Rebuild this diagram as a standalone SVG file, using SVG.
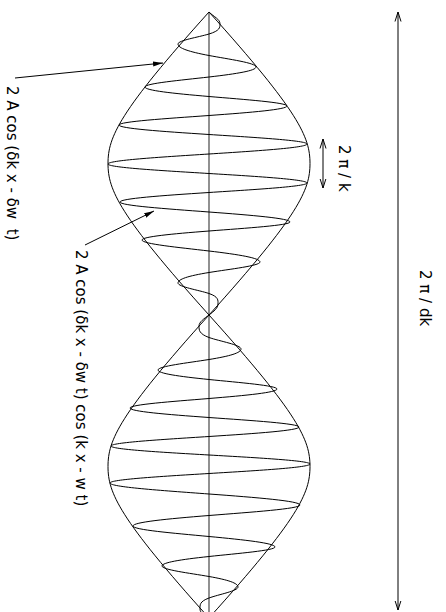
<svg xmlns="http://www.w3.org/2000/svg" width="446" height="612" viewBox="0 0 446 612">
<style>
.ln{fill:none;stroke:#000;stroke-width:1}
.ax{fill:none;stroke:#555;stroke-width:1.3}
.lbl{font-family:"DejaVu Sans",sans-serif;font-size:15px;fill:#000;white-space:pre}
</style>
<defs>
<marker id="ah" viewBox="0 0 10 6" refX="10" refY="3" markerWidth="10" markerHeight="6" markerUnits="userSpaceOnUse" orient="auto">
<path d="M0,0.5 L10,3 L0,5.5 z" fill="#000"/>
</marker>
<marker id="av" viewBox="0 0 10 8" refX="9.5" refY="4" markerWidth="10" markerHeight="8" markerUnits="userSpaceOnUse" orient="auto-start-reverse">
<path d="M0,1 L9.5,4 L0,7" fill="none" stroke="#000" stroke-width="1"/>
</marker>
</defs>
<rect width="446" height="612" fill="#fff"/>
<g id="axis"><line class="ax" x1="209" y1="12" x2="209" y2="612"/></g>
<g id="envelope">
<path class="ln" d="M209,12 C119,112 108,137 108,163.5 C108,190 119,215 209,315 C119,415 108,440 108,466.5 C108,493 119,518 209,618"/>
<path class="ln" d="M209,12 C299,112 310,137 310,163.5 C310,190 299,215 209,315 C299,415 310,440 310,466.5 C310,493 299,518 209,618"/>
</g>
<g id="carrier">
<path class="ln" d="M209,12 C214,17 220,19 220,24
C220,27.62 219.75,30.74 209,34 C198.25,37.26 178,40.38 178,44
C178,48.16 189.03,51.75 209,55.5 C228.97,59.25 256,62.84 256,67
C256,70.62 237.42,73.74 209,77 C180.58,80.26 145,83.38 145,87
C145,90.44 172.65,93.4 209,96.5 C245.35,99.6 287,102.56 287,106
C287,109.44 252.01,112.4 209,115.5 C165.99,118.6 119,121.56 119,125
C119,128.44 160.87,131.4 209,134.5 C257.13,137.6 307,140.56 307,144
C307,147.62 259.94,150.74 209,154 C158.06,157.26 108,160.38 108,164
C108,167.44 158.06,170.4 209,173.5 C259.94,176.6 307,179.56 307,183
C307,186.44 256.87,189.4 209,192.5 C161.13,195.6 120,198.56 120,202
C120,205.62 165.48,208.74 209,212 C252.52,215.26 290,218.38 290,222
C290,225.26 246.89,228.07 209,231 C171.11,233.93 142,236.74 142,240
C142,243.98 178.79,247.41 209,251 C239.21,254.59 260,258.02 260,262
C260,265.8 229.99,269.08 209,272.5 C188.01,275.92 178,279.2 178,283
C178,286.8 198.76,290.08 209,293.5 C218.8,296.92 218,300.2 218,304
C218,307.98 213.86,311.41 209,315 C204.14,318.59 199,322.02 199,326
C199,330.16 199,333.75 209,337.5 C219.75,341.25 241,344.84 241,349
C241,352.8 230.25,356.08 209,359.5 C187.75,362.92 158,366.2 158,370
C158,373.44 178.54,376.4 209,379.5 C239.46,382.6 277,385.56 277,389
C277,392.44 246.63,395.4 209,398.5 C171.37,401.6 130,404.56 130,408
C130,411.44 165.74,414.4 209,417.5 C252.26,420.6 299,423.56 299,427
C299,430.44 257.13,433.4 209,436.5 C160.87,439.6 111,442.56 111,446
C111,449.26 158.06,452.07 209,455 C259.94,457.93 310,460.74 310,464
C310,467.44 260.2,470.4 209,473.5 C157.8,476.6 110,479.56 110,483
C110,486.98 160.36,490.41 209,494 C257.64,497.59 300,501.02 300,505
C300,508.8 251.75,512.08 209,515.5 C166.25,518.92 133,522.2 133,526
C133,529.8 172.65,533.08 209,536.5 C245.35,539.92 275,543.2 275,547
C275,550.44 237.93,553.4 209,556.5 C180.07,559.6 162,562.56 162,566
C162,569.8 189.54,573.08 209,576.5 C228.46,579.92 238,583.2 238,587
C238,590.98 218.73,594.41 209,598 C199.27,601.59 200,605.02 200,609
C200,613 205,616 209,618"/>
</g>
<g id="label-envelope"><text class="lbl" transform="translate(7,86) rotate(90)">2 A cos (δk x - δw  t)</text></g>
<g id="label-wave"><text class="lbl" transform="translate(76,250) rotate(90)">2 A cos (δk x - δw t) cos (k x - w t)</text></g>
<g id="label-k"><text class="lbl" transform="translate(339,145) rotate(90)">2 π / k</text></g>
<g id="label-dk"><text class="lbl" transform="translate(420,270) rotate(90)">2 π / dk</text></g>
<g id="connectors">
<line class="ln" x1="15" y1="78" x2="163" y2="63" marker-end="url(#ah)"/>
<line class="ln" x1="85" y1="245" x2="154" y2="211" marker-end="url(#ah)"/>
<line class="ln" x1="323" y1="139" x2="323" y2="188" marker-start="url(#av)" marker-end="url(#av)"/>
<line class="ln" x1="398" y1="12" x2="398" y2="610" marker-start="url(#av)" marker-end="url(#av)"/>
</g>
</svg>
